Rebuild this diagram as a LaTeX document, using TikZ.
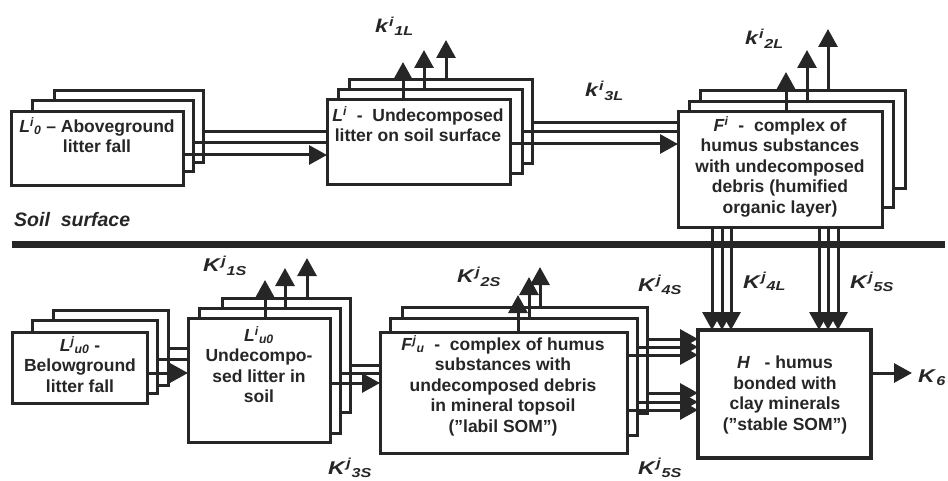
\documentclass[tikz,border=0pt]{standalone}
\usepackage{fontspec}
\setmainfont{Liberation Sans}
\newfontfamily\labfont[FakeStretch=1.25]{Liberation Sans}
\usetikzlibrary{arrows.meta,fit}
\newcommand{\tsym}[3]{\textit{#1}\textsuperscript{\textit{#2}}\textsubscript{\textit{#3}}}
\begin{document}
\begin{tikzpicture}[x=1pt,y=-1pt,
  box/.style={draw=black!85,line width=3pt,fill=white,inner sep=0pt,outer sep=0pt},
  hbox/.style={box,line width=4.5pt},
  flow/.style={draw=black!85,line width=3pt},
  arr/.style={flow,-{Triangle[length=18pt,width=19pt]}},
  txt/.style={font=\fontsize{17.5}{20.5}\selectfont\bfseries,align=center,inner sep=0pt,anchor=north,text=black!85},
  lab/.style={font=\labfont\fontsize{18.5}{22}\selectfont\bfseries,inner sep=0pt,anchor=base west,text=black!85}
]
\useasboundingbox (0,0) rectangle (948,481);

% ---------- top row boxes ----------
\node[box,fit={(54,91) (203,163)}] (l0c) {};
\node[box,fit={(32,101) (193,172)}] (l0b) {};
\node[box,fit={(11,112) (183,186)}] (l0a) {};
\node[txt] (t-l0) at (97,117) {\tsym{L}{i}{0} -- Aboveground\\litter fall};

\node[box,fit={(349,80) (532,164)}] (lc) {};
\node[box,fit={(338,90) (522,174)}] (lb) {};
\node[box,fit={(327,100) (510,185)}] (la) {};
\node[txt] (t-l) at (418,106) {\textit{L}\textsuperscript{\textit{i}}\ \ -\ \ Undecomposed\\litter on soil surface};

\node[box,fit={(700,91) (905,189)}] (fc) {};
\node[box,fit={(689,102) (893,208)}] (fb) {};
\node[box,fit={(678,112) (882,228)}] (fa) {};
\node[txt] (t-f) at (780,116) {\textit{F}\textsuperscript{\textit{i}}\ \ -\ \ complex of\\humus substances\\with undecomposed\\debris (humified\\organic layer)};

% ---------- soil surface ----------
\coordinate (s1) at (12,245);
\coordinate (s2) at (945,245);
\draw[draw=black!85,line width=7pt] (s1) -- (s2);
\node[inner sep=0pt,anchor=west,text=black!85,font=\fontsize{19.5}{22}\selectfont\bfseries\itshape] (soil) at (14,220) {Soil\ \ surface};

% ---------- bottom row boxes ----------
\node[box,fit={(53,310) (168,385)}] (u0c) {};
\node[box,fit={(32,320) (157,393)}] (u0b) {};
\node[box,fit={(12,332) (147,403)}] (u0a) {};
\node[txt] (t-u0) at (80,336) {\textit{L}\textsuperscript{\textit{j}}\textsubscript{\textit{u0}} -\\Belowground\\litter fall};

\node[box,fit={(222,298) (350,412)}] (luc) {};
\node[box,fit={(199,308) (340,433)}] (lub) {};
\node[box,fit={(188,318) (330,442)}] (lua) {};
\node[txt] (t-lu) at (259,326) {\textit{L}\textsuperscript{\textit{i}}\textsubscript{\textit{u0}}\\Undecompo-\\sed litter in\\soil};

\node[box,fit={(402,307) (647,413)}] (fuc) {};
\node[box,fit={(390,318) (637,435)}] (fub) {};
\node[box,fit={(380,332) (627,453)}] (fua) {};
\node[txt] (t-fu) at (503,335) {\textit{F}\textsuperscript{\textit{j}}\textsubscript{\textit{u}}\ \ -\ \ complex of humus\\substances with\\undecomposed debris\\in mineral topsoil\\(''labil SOM'')};

\node[hbox,fit={(698,330) (871,458)}] (h) {};
\node[txt] (t-h) at (785,356) {\textit{H}\ \ \ -\ humus\\bonded with\\clay minerals\\(''stable SOM'')};

% ---------- connectors: top row ----------
\draw[flow] (l0c.east |- 0,132) -- (la.west |- 0,132);
\draw[flow] (l0b.east |- 0,143) -- (la.west |- 0,143);
\draw[arr]  (l0a.east |- 0,155) -- (la.west |- 0,155);

\draw[flow] (lc.east |- 0,123) -- (fa.west |- 0,123);
\draw[flow] (lb.east |- 0,132) -- (fa.west |- 0,132);
\draw[arr]  (la.east |- 0,144) -- (fa.west |- 0,144);

\coordinate (k1a) at (403,62);
\coordinate (k1b) at (424,50);
\coordinate (k1c) at (446,40);
\draw[arr] (k1a |- la.north) -- (k1a);
\draw[arr] (k1b |- lb.north) -- (k1b);
\draw[arr] (k1c |- lc.north) -- (k1c);

\coordinate (k2a) at (786,72);
\coordinate (k2b) at (807,50);
\coordinate (k2c) at (828,29);
\draw[arr] (k2a |- fa.north) -- (k2a);
\draw[arr] (k2b |- fb.north) -- (k2b);
\draw[arr] (k2c |- fc.north) -- (k2c);

% vertical F -> H
\foreach \xx in {712,722,731,819,828,838}
  \draw[arr] (\xx,0 |- fa.south) -- (\xx,0 |- h.north);

% ---------- connectors: bottom row ----------
\draw[flow] (u0c.east |- 0,348) -- (lua.west |- 0,348);
\draw[flow] (u0b.east |- 0,359) -- (lua.west |- 0,359);
\draw[arr]  (u0a.east |- 0,373) -- (lua.west |- 0,373);

\draw[flow] (luc.east |- 0,365) -- (fua.west |- 0,365);
\draw[flow] (lub.east |- 0,373) -- (fua.west |- 0,373);
\draw[arr]  (lua.east |- 0,383) -- (fua.west |- 0,383);

\coordinate (k1sa) at (265,280);
\coordinate (k1sb) at (285,268);
\coordinate (k1sc) at (307,258);
\draw[arr] (k1sa |- lua.north) -- (k1sa);
\draw[arr] (k1sb |- lub.north) -- (k1sb);
\draw[arr] (k1sc |- luc.north) -- (k1sc);

\coordinate (k2sa) at (518,295);
\coordinate (k2sb) at (529,277);
\coordinate (k2sc) at (540,267);
\draw[arr] (k2sa |- fua.north) -- (k2sa);
\draw[arr] (k2sb |- fub.north) -- (k2sb);
\draw[arr] (k2sc |- fuc.north) -- (k2sc);

\draw[arr] (fuc.east |- 0,339) -- (h.west |- 0,339);
\draw[arr] (fub.east |- 0,347) -- (h.west |- 0,347);
\draw[arr] (fua.east |- 0,355) -- (h.west |- 0,355);
\draw[arr] (fuc.east |- 0,393) -- (h.west |- 0,393);
\draw[arr] (fub.east |- 0,402) -- (h.west |- 0,402);
\draw[arr] (fua.east |- 0,410) -- (h.west |- 0,410);

\coordinate (k6) at (912,373);
\draw[arr] (h.east |- k6) -- (k6);

% ---------- rate labels ----------
\node[lab] (lk1l) at (375,33) {\tsym{k}{i}{1L}};
\node[lab] (lk3l) at (585,97) {\tsym{k}{i}{3L}};
\node[lab] (lk2l) at (745,45) {\tsym{k}{i}{2L}};
\node[lab] (lk1s) at (203,272) {\tsym{K}{j}{1S}};
\node[lab] (lk3s) at (328,474) {\tsym{K}{j}{3S}};
\node[lab] (lk2s) at (457,283) {\tsym{K}{j}{2S}};
\node[lab] (lk4s) at (638,291) {\tsym{K}{j}{4S}};
\node[lab] (lk5sb) at (638,474) {\tsym{K}{j}{5S}};
\node[lab] (lk4l) at (743,288) {\tsym{K}{j}{4L}};
\node[lab] (lk5s) at (850,288) {\tsym{K}{j}{5S}};
\node[lab] (lk6) at (918,382) {\textit{K}\textsubscript{\textit{6}}};
\end{tikzpicture}
\end{document}
